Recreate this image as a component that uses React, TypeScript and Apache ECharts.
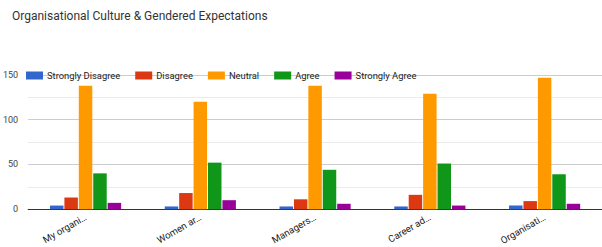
import React, { useEffect, useRef } from "react";
import * as echarts from "echarts";

const categories = ["My organi…", "Women ar…", "Managers…", "Career ad…", "Organisati…"];
const seriesNames = ["Strongly Disagree", "Disagree", "Neutral", "Agree", "Strongly Agree"];
const stronglyDisagree = [4, 3, 3, 3, 4];
const disagree = [13, 18, 11, 16, 9];
const neutral = [138, 120, 138, 129, 147];
const agree = [40, 52, 44, 51, 39];
const stronglyAgree = [7, 10, 6, 4, 6];
const colors = ["#3366cc", "#dc3912", "#ff9900", "#109618", "#990099"];

export default function App() {
  const ref = useRef<HTMLDivElement>(null);
  useEffect(() => {
    const chart = echarts.init(ref.current!, null, { renderer: "svg" });
    const values = [stronglyDisagree, disagree, neutral, agree, stronglyAgree];
    chart.setOption({
      animation: false,
      color: colors,
      textStyle: { fontFamily: "Roboto" },
      title: {
        text: "Organisational Culture & Gendered Expectations",
        left: 7,
        top: 5,
        textStyle: { fontSize: 12, fontWeight: "normal", color: "#333", fontFamily: "Roboto" },
      },
      legend: {
        left: 21,
        top: 66,
        itemWidth: 17,
        itemHeight: 8,
        itemGap: 15,
        icon: "rect",
        textStyle: { fontSize: 9.4, color: "#222", fontFamily: "Roboto", padding: [0, 0, 0, -1] },
        data: seriesNames,
      },
      grid: { left: 26, top: 75, width: 584, height: 134.7 },
      xAxis: {
        type: "category",
        data: categories,
        axisLine: { lineStyle: { color: "#333", width: 1 } },
        axisTick: { show: false },
        axisLabel: { rotate: 30, fontSize: 9.6, color: "#222", margin: 7, fontFamily: "Roboto" },
      },
      yAxis: {
        type: "value",
        min: 0,
        max: 150,
        interval: 25,
        axisLine: { show: false },
        axisTick: { show: false },
        axisLabel: {
          fontSize: 9,
          color: "#444",
          margin: 10,
          fontFamily: "Roboto",
          formatter: (v: number) => (v % 50 === 0 ? String(v) : ""),
        },
        splitLine: { lineStyle: { color: ["#cccccc", "#ebebeb"], width: 1 } },
      },
      series: seriesNames.map((name, i) => ({
        name,
        type: "bar",
        data: values[i],
        barCategoryGap: "38%",
        barGap: "7%",
      })),
    });
    return () => chart.dispose();
  }, []);
  return (
    <div
      ref={ref}
      style={{ position: "fixed", left: 0, top: 0, width: 602, height: 247, background: "#fff" }}
    />
  );
}
